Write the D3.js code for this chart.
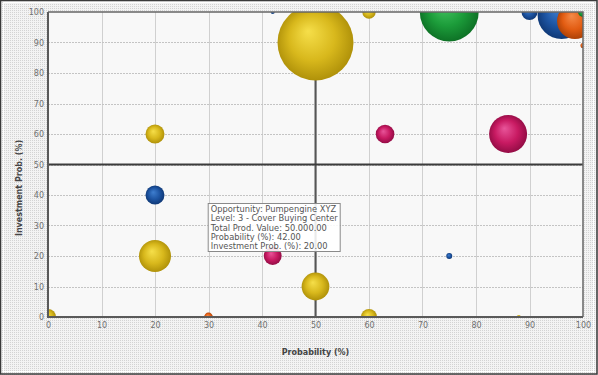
<!DOCTYPE html>
<html>
<head>
<meta charset="utf-8">
<script src="https://cdn.jsdelivr.net/npm/d3@7"></script>
<style>
  body { margin: 0; background: #fff; }
  svg { display: block; }
  text { font-family: "DejaVu Sans", Verdana, sans-serif; }
</style>
</head>
<body>
<div id="chart"></div>
<script>
// bubble data
var probability = [50, 75, 96, 98.5, 20, 86, 50, 42, 63, 20, 20, 90, 60, 0, 60, 30, 100, 75, 100, 42, 88];
var investProb  = [90, 100, 99, 97, 20, 60, 10, 20, 60, 60, 40, 100, 0, 0, 100, 0, 100, 20, 89, 100, 0];
var prodValue   = [900000, 540000, 360000, 200000, 160000, 225000, 120000, 50000, 54000, 56000, 56000, 40000, 40000, 40000, 28000, 12000, 15000, 5500, 4000, 2500, 2500];
var level       = [1, 4, 2, 5, 1, 3, 1, 3, 3, 1, 2, 2, 1, 1, 1, 5, 4, 2, 5, 2, 1];

var xTicks = [0, 10, 20, 30, 40, 50, 60, 70, 80, 90, 100];
var yTicks = [0, 10, 20, 30, 40, 50, 60, 70, 80, 90, 100];

var tooltipLines = [
  "Opportunity: Pumpengine XYZ",
  "Level: 3 - Cover Buying Center",
  "Total Prod. Value: 50.000.00",
  "Probability (%): 42.00",
  "Investment Prob. (%): 20.00"
];
var tooltipFor = 7; // index of the bubble the tooltip belongs to

var W = 598, H = 375;
var plot = { left: 48, right: 583, top: 12, bottom: 317 };

var bubbles = probability.map(function(p, i) {
  return { x: p, y: investProb[i], v: prodValue[i], level: level[i] };
}).sort(function(a, b) { return b.v - a.v; });

var svg = d3.select("#chart").append("svg")
  .attr("width", W)
  .attr("height", H);

var defs = svg.append("defs");

// dotted panel texture
var pat = defs.append("pattern")
  .attr("id", "tex")
  .attr("width", 2).attr("height", 2)
  .attr("patternUnits", "userSpaceOnUse");
pat.append("rect").attr("width", 2).attr("height", 2).attr("fill", "#f3f3f3");
pat.append("rect").attr("width", 1).attr("height", 1).attr("fill", "#d3d3d3");

defs.append("clipPath").attr("id", "plotClip")
  .append("rect")
  .attr("x", plot.left).attr("y", plot.top)
  .attr("width", plot.right - plot.left).attr("height", plot.bottom - plot.top);

// sphere shading per level
var palette = {
  1: ["#f6df4a", "#d8b81c", "#a88a06"],
  2: ["#3f7fd0", "#1d54a2", "#0c336e"],
  3: ["#e8559a", "#c81a62", "#8a0a40"],
  4: ["#48c865", "#1c9c3a", "#0b6a22"],
  5: ["#f58a48", "#e25c12", "#a23c04"]
};
Object.keys(palette).forEach(function(k) {
  var g = defs.append("radialGradient")
    .attr("id", "ball" + k)
    .attr("cx", "50%").attr("cy", "50%").attr("r", "55%")
    .attr("fx", "40%").attr("fy", "35%");
  g.append("stop").attr("offset", "0%").attr("stop-color", palette[k][0]);
  g.append("stop").attr("offset", "55%").attr("stop-color", palette[k][1]);
  g.append("stop").attr("offset", "100%").attr("stop-color", palette[k][2]);
});

// background panel + frame
svg.append("rect")
  .attr("x", 0).attr("y", 0).attr("width", W).attr("height", H)
  .attr("fill", "url(#tex)");
svg.append("rect")
  .attr("x", 3.5).attr("y", 2.5).attr("width", W - 8).attr("height", H - 6)
  .attr("fill", "none").attr("stroke", "#fff").attr("stroke-width", 1);
svg.append("rect")
  .attr("x", 0.5).attr("y", 0.5).attr("width", W - 1.5).attr("height", H - 1.5)
  .attr("fill", "none").attr("stroke", "#3a3a3a").attr("stroke-width", 1.5);

var x = d3.scaleLinear().domain([0, 100]).range([plot.left, plot.right]);
var y = d3.scaleLinear().domain([0, 100]).range([plot.bottom, plot.top]);
var r = d3.scaleSqrt().domain([0, 900000]).range([0, 38]);

svg.append("rect")
  .attr("x", plot.left).attr("y", plot.top)
  .attr("width", plot.right - plot.left).attr("height", plot.bottom - plot.top)
  .attr("fill", "#f8f8f8");

// grid
svg.append("g").selectAll("line").data(xTicks.slice(1, -1))
  .enter().append("line")
  .attr("x1", function(d) { return Math.round(x(d)) + 0.5; })
  .attr("x2", function(d) { return Math.round(x(d)) + 0.5; })
  .attr("y1", plot.top).attr("y2", plot.bottom)
  .attr("stroke", "#d0d0d0").attr("stroke-width", 1);
svg.append("g").selectAll("line").data(yTicks.slice(1, -1))
  .enter().append("line")
  .attr("y1", function(d) { return Math.round(y(d)) + 0.5; })
  .attr("y2", function(d) { return Math.round(y(d)) + 0.5; })
  .attr("x1", plot.left).attr("x2", plot.right)
  .attr("stroke", "#c4c4c4").attr("stroke-width", 1)
  .attr("stroke-dasharray", "2,1");

// quadrant lines
svg.append("line")
  .attr("x1", x(50)).attr("x2", x(50))
  .attr("y1", plot.top).attr("y2", plot.bottom)
  .attr("stroke", "#555").attr("stroke-width", 2);
svg.append("line")
  .attr("x1", plot.left).attr("x2", plot.right)
  .attr("y1", y(50)).attr("y2", y(50))
  .attr("stroke", "#3c3c3c").attr("stroke-width", 2);

// bubbles
svg.append("g")
  .attr("clip-path", "url(#plotClip)")
  .selectAll("circle").data(bubbles)
  .enter().append("circle")
  .attr("cx", function(d) { return x(d.x); })
  .attr("cy", function(d) { return y(d.y); })
  .attr("r", function(d) { return r(d.v); })
  .attr("fill", function(d) { return "url(#ball" + d.level + ")"; });

// plot border
svg.append("path")
  .attr("d", "M" + plot.left + "," + plot.top + "H" + plot.right + "V" + plot.bottom)
  .attr("fill", "none").attr("stroke", "#666").attr("stroke-width", 1.5);
svg.append("path")
  .attr("d", "M" + plot.left + "," + plot.top + "V" + plot.bottom + "H" + plot.right)
  .attr("fill", "none").attr("stroke", "#5a5a5a").attr("stroke-width", 2);

// axes
var xAxis = svg.append("g")
  .attr("transform", "translate(0," + plot.bottom + ")")
  .call(d3.axisBottom(x).tickValues(xTicks).tickSize(0).tickPadding(5));
var yAxis = svg.append("g")
  .attr("transform", "translate(" + plot.left + ",0)")
  .call(d3.axisLeft(y).tickValues(yTicks).tickSize(0).tickPadding(4));
[xAxis, yAxis].forEach(function(a) {
  a.select(".domain").remove();
  a.selectAll("text")
    .attr("fill", "#707070")
    .style("font-size", "8px")
    .style("font-family", '"DejaVu Sans", Verdana, sans-serif');
});

svg.append("text")
  .attr("x", (plot.left + plot.right) / 2)
  .attr("y", 355)
  .attr("text-anchor", "middle")
  .attr("fill", "#444")
  .style("font-size", "8px")
  .style("font-weight", "bold")
  .text("Probability (%)");

svg.append("text")
  .attr("transform", "translate(22,188) rotate(-90)")
  .attr("text-anchor", "middle")
  .attr("fill", "#444")
  .style("font-size", "8px")
  .style("font-weight", "bold")
  .text("Investment Prob. (%)");

// tooltip box next to its bubble
var tipX = x(probability[tooltipFor]) - 65;
var tipY = y(investProb[tooltipFor]) - 53;
var tip = svg.append("g").attr("transform", "translate(" + tipX + "," + tipY + ")");
tip.append("rect")
  .attr("x", 0.5).attr("y", 0.5)
  .attr("width", 132).attr("height", 48)
  .attr("fill", "rgba(255,255,255,0.88)")
  .attr("stroke", "#8a8a8a").attr("stroke-width", 1);
tip.selectAll("text").data(tooltipLines)
  .enter().append("text")
  .attr("x", 3)
  .attr("y", function(d, i) { return 9 + i * 9.3; })
  .attr("fill", "#555")
  .style("font-size", "8.3px")
  .text(function(d) { return d; });
</script>
</body>
</html>
